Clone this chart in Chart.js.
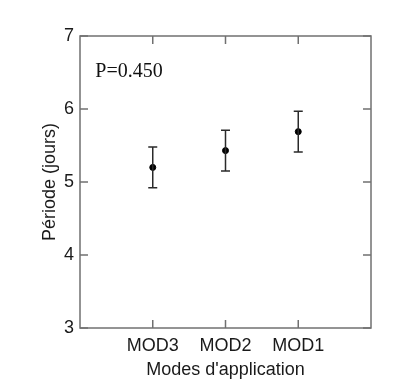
<!DOCTYPE html>
<html><head><meta charset="utf-8">
<script src="https://cdn.jsdelivr.net/npm/chart.js@4"></script>
<style>html,body{margin:0;padding:0;background:#fff;}#wrap{width:406px;height:390px;position:relative;}</style>
</head><body><div id="wrap"><canvas id="c" width="406" height="390"></canvas></div>
<script>
const categories = ["MOD3", "MOD2", "MOD1"];
const positions = [1, 2, 3];
const means = [5.20, 5.43, 5.69];
const errors = [0.28, 0.28, 0.28];
const yTicks = [3, 4, 5, 6, 7];
const annotation = "P=0.450";

const AX = '#707070';
const boxPlugin = {
  id: 'box',
  afterDatasetsDraw(chart) {
    const {ctx, chartArea: a, scales: {x, y}} = chart;
    ctx.save();
    ctx.strokeStyle = AX; ctx.lineWidth = 1.5;
    ctx.strokeRect(a.left, a.top, a.right - a.left, a.bottom - a.top);
    const L = 8;
    ctx.beginPath();
    yTicks.forEach(v => {
      const py = y.getPixelForValue(v);
      ctx.moveTo(a.left, py); ctx.lineTo(a.left + L, py);
      ctx.moveTo(a.right, py); ctx.lineTo(a.right - L, py);
    });
    positions.forEach(p => {
      const px = x.getPixelForValue(p);
      ctx.moveTo(px, a.bottom); ctx.lineTo(px, a.bottom - L);
      ctx.moveTo(px, a.top); ctx.lineTo(px, a.top + L);
    });
    ctx.stroke();
    // error bars
    ctx.strokeStyle = '#2a2a2a'; ctx.lineWidth = 1.5;
    ctx.beginPath();
    positions.forEach((p, i) => {
      const px = x.getPixelForValue(p);
      const hi = y.getPixelForValue(means[i] + errors[i]);
      const lo = y.getPixelForValue(means[i] - errors[i]);
      ctx.moveTo(px, hi); ctx.lineTo(px, lo);
      ctx.moveTo(px - 4.5, hi); ctx.lineTo(px + 4.5, hi);
      ctx.moveTo(px - 4.5, lo); ctx.lineTo(px + 4.5, lo);
    });
    ctx.stroke();
    // annotation
    ctx.fillStyle = '#111';
    ctx.font = '20px "Liberation Serif"';
    ctx.textAlign = 'left'; ctx.textBaseline = 'middle';
    ctx.fillText(annotation, x.getPixelForValue(0.21), y.getPixelForValue(6.51));
    ctx.restore();
  }
};

new Chart(document.getElementById('c'), {
  type: 'scatter',
  data: {
    datasets: [{
      data: positions.map((p, i) => ({x: p, y: means[i]})),
      backgroundColor: '#000', borderColor: '#000',
      pointRadius: 3, pointHoverRadius: 3
    }]
  },
  options: {
    responsive: false, animation: false,
    layout: {padding: {left: 39, top: 36, right: 35, bottom: 9}},
    plugins: {legend: {display: false}, tooltip: {enabled: false}},
    scales: {
      x: {
        type: 'linear', min: 0, max: 4,
        afterBuildTicks: s => { s.ticks = positions.map(v => ({value: v})); },
        afterFit: s => { s.height = 53; },
        grid: {display: false, drawTicks: false}, border: {display: false},
        ticks: {
          callback: (v) => categories[positions.indexOf(v)] || '',
          color: '#1a1a1a', font: {family: 'Liberation Sans', size: 18}, padding: 7, maxRotation: 0
        },
        title: {display: true, text: "Modes d'application", color: '#1a1a1a',
          font: {family: 'Liberation Sans', size: 18}, padding: {top: 0, bottom: 0}}
      },
      y: {
        min: 3, max: 7,
        afterBuildTicks: s => { s.ticks = yTicks.map(v => ({value: v})); },
        afterFit: s => { s.width = 41; },
        grid: {display: false, drawTicks: false}, border: {display: false},
        ticks: {color: '#1a1a1a', font: {family: 'Liberation Sans', size: 18}, padding: 6},
        title: {display: true, text: 'Période (jours)', color: '#1a1a1a',
          font: {family: 'Liberation Sans', size: 18}, padding: {top: 0, bottom: 0}}
      }
    }
  },
  plugins: [boxPlugin]
});
</script></body></html>
